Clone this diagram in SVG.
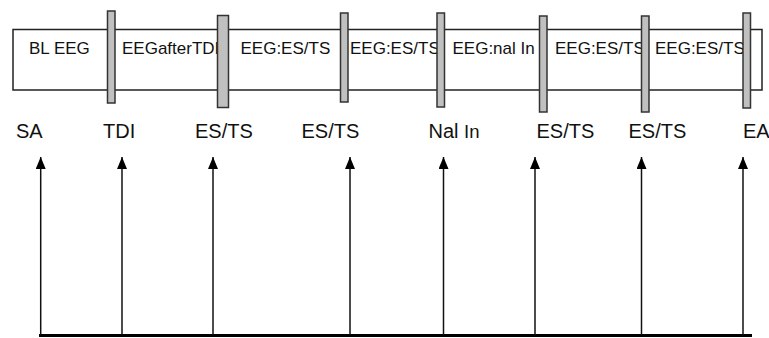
<svg xmlns="http://www.w3.org/2000/svg" width="769" height="338" viewBox="0 0 769 338">
<style>
.box{fill:#fff;stroke:#222;stroke-width:1.5}
.bar{fill:#c0c0c0;stroke:#333;stroke-width:1.5}
.seg{font-family:"Liberation Sans",Arial,sans-serif;font-size:17px;fill:#111}
.lbl{font-family:"Liberation Sans",Arial,sans-serif;font-size:20px;fill:#111}
.arr{stroke:#111;stroke-width:1.5;fill:none;marker-end:url(#ah)}
.base{stroke:#000;stroke-width:3}
</style>
<defs>
<marker id="ah" viewBox="0 0 12 10" refX="12" refY="5" markerWidth="12" markerHeight="10" markerUnits="userSpaceOnUse" orient="auto">
<path d="M0,0 L12,5 L0,10 Z" fill="#000"/>
</marker>
</defs>
<rect width="769" height="338" fill="#fff"/>
<g id="timeline">
<rect class="box" x="13" y="29.5" width="749" height="60.5"/>
<text class="seg" x="29" y="54">BL EEG</text>
<text class="seg" x="122" y="54">EEGafterTDI</text>
<text class="seg" x="240.5" y="54">EEG:ES/TS</text>
<text class="seg" x="350" y="54">EEG:ES/TS</text>
<text class="seg" x="452.5" y="54">EEG:nal In</text>
<text class="seg" x="555" y="54">EEG:ES/TS</text>
<text class="seg" x="655" y="54">EEG:ES/TS</text>
</g>
<g id="markers">
<rect id="m1" class="bar" x="107.5" y="11" width="7.5" height="92"/>
<rect id="m2" class="bar" x="217.5" y="15.5" width="11" height="92"/>
<rect id="m3" class="bar" x="340.5" y="13" width="7.5" height="89"/>
<rect id="m4" class="bar" x="437" y="13" width="7.5" height="94"/>
<rect id="m5" class="bar" x="539.5" y="16" width="7.5" height="96"/>
<rect id="m6" class="bar" x="641.5" y="16" width="7.5" height="96"/>
<rect id="m7" class="bar" x="743" y="13" width="7.5" height="95"/>
</g>
<g id="labels">
<text id="l-sa" class="lbl" x="16" y="137.5">SA</text>
<text id="l-tdi" class="lbl" x="103" y="137.5">TDI</text>
<text id="l-es1" class="lbl" x="195" y="137.5">ES/TS</text>
<text id="l-es2" class="lbl" x="301.5" y="137.5">ES/TS</text>
<text id="l-nal" class="lbl" x="428.5" y="137.5">Nal <tspan font-size="18.5">In</tspan></text>
<text id="l-es3" class="lbl" x="536.5" y="137.5">ES/TS</text>
<text id="l-es4" class="lbl" x="628.5" y="137.5">ES/TS</text>
<text id="l-ea" class="lbl" x="743" y="137.5">EA</text>
</g>
<g id="connectors">
<line class="base" x1="39" y1="335.5" x2="752" y2="335.5"/>
<line class="arr" x1="40.7" y1="335" x2="40.7" y2="157"/>
<line class="arr" x1="122" y1="335" x2="122" y2="157"/>
<line class="arr" x1="213" y1="335" x2="213" y2="157"/>
<line class="arr" x1="350" y1="335" x2="350" y2="157"/>
<line class="arr" x1="443.5" y1="335" x2="443.5" y2="157"/>
<line class="arr" x1="535" y1="335" x2="535" y2="157"/>
<line class="arr" x1="641.5" y1="335" x2="641.5" y2="157"/>
<line class="arr" x1="743" y1="335" x2="743" y2="157"/>
</g>
</svg>
